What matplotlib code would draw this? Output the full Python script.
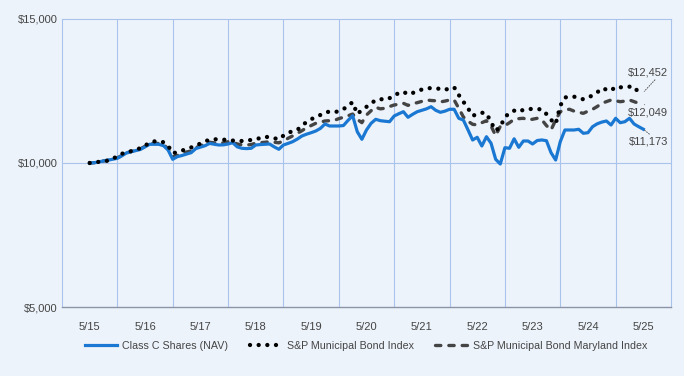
import numpy as np
import matplotlib
matplotlib.use("Agg")
import matplotlib.pyplot as plt
from matplotlib.lines import Line2D

# Growth of $10,000, monthly values (5/15 .. 5/25)
x_labels = ["5/15", "5/16", "5/17", "5/18", "5/19", "5/20", "5/21", "5/22", "5/23", "5/24", "5/25"]

class_c = [
    10000, 10010, 10040, 10070, 10100, 10130, 10163, 10250, 10350, 10390, 10430, 10470,
    10560, 10649, 10650, 10649, 10600, 10450, 10128, 10219, 10260, 10310, 10358, 10500,
    10550, 10600, 10680, 10650, 10625, 10630, 10660, 10705, 10560, 10510, 10500, 10510,
    10625, 10640, 10650, 10660, 10560, 10476, 10625, 10680, 10740, 10830, 10937, 11000,
    11052, 11110, 11200, 11354, 11285, 11285, 11285, 11300, 11480, 11642, 11087, 10823,
    11146, 11378, 11517, 11469, 11450, 11434, 11632, 11710, 11781, 11587, 11690, 11781,
    11830, 11880, 11955, 11830, 11760, 11800, 11865, 11865, 11552, 11490, 11150, 10799,
    10892, 10590, 10913, 10684, 10128, 9965, 10531, 10510, 10840, 10545, 10764, 10764,
    10660, 10780, 10800, 10774, 10358, 10104, 10740, 11146, 11146, 11146, 11170, 11031,
    11052, 11260, 11360, 11420, 11458, 11319, 11552, 11399, 11434, 11552, 11354, 11260,
    11173,
]

muni_index = [
    10000, 10020, 10040, 10060, 10080, 10150, 10230, 10320, 10380, 10410, 10450, 10520,
    10600, 10710, 10750, 10764, 10720, 10600, 10340, 10372, 10430, 10486, 10540, 10590,
    10680, 10750, 10810, 10823, 10823, 10810, 10799, 10780, 10764, 10764, 10780, 10800,
    10823, 10870, 10913, 10890, 10860, 10823, 10950, 11052, 11100, 11146, 11300, 11420,
    11517, 11600, 11667, 11760, 11781, 11760, 11800, 11865, 12000, 12108, 11700, 11840,
    11950, 12073, 12180, 12222, 12190, 12250, 12361, 12420, 12476, 12380, 12430, 12500,
    12550, 12594, 12600, 12594, 12570, 12535, 12600, 12628, 12361, 12128, 11900, 11642,
    11691, 11746, 11725, 11413, 11121, 11260, 11587, 11746, 11816, 11771, 11850, 11875,
    11875, 11870, 11865, 11700, 11500, 11354, 11990, 12274, 12300, 12302, 12250, 12212,
    12267, 12350, 12450, 12594, 12550, 12510, 12649, 12628, 12630, 12649, 12649, 12441,
    12452,
]

maryland_index = [
    10000, 10010, 10040, 10070, 10100, 10140, 10180, 10260, 10350, 10400, 10440, 10490,
    10580, 10670, 10680, 10680, 10630, 10500, 10200, 10260, 10320, 10380, 10420, 10530,
    10600, 10650, 10720, 10700, 10690, 10700, 10740, 10720, 10660, 10630, 10625, 10640,
    10690, 10705, 10720, 10740, 10720, 10700, 10764, 10858, 10940, 11031, 11120, 11226,
    11300, 11378, 11420, 11458, 11469, 11480, 11540, 11587, 11640, 11700, 11517, 11400,
    11667, 11816, 11934, 11880, 11900, 11960, 12014, 12040, 12073, 12000, 12060, 12094,
    12140, 12187, 12170, 12160, 12120, 12150, 12187, 12187, 11900, 11600, 11450, 11344,
    11320, 11400, 11469, 11285, 10950, 11274, 11300, 11400, 11517, 11540, 11552, 11493,
    11520, 11552, 11500, 11300, 11146, 11493, 11781, 11850, 11865, 11800, 11760, 11725,
    11800, 11865, 11960, 12073, 12130, 12187, 12160, 12128, 12150, 12187, 12130, 12073,
    12049,
]

series_names = ["Class C Shares (NAV)", "S&P Municipal Bond Index", "S&P Municipal Bond Maryland Index"]
end_labels = ["$11,173", "$12,452", "$12,049"]

assert len(class_c) == len(muni_index) == len(maryland_index) == 121

BG = "#EDF3FB"
GRID = "#A9C4EC"
BLUE = "#1A78D2"
TEXT = "#444444"

plt.rcParams['font.family'] = ['Liberation Sans', 'DejaVu Sans']

fig = plt.figure(figsize=(6.84, 3.76), dpi=100, facecolor=BG)
ax = fig.add_axes([0.0906, 0.1835, 0.8904, 0.766])
ax.set_facecolor(BG)

months = np.arange(len(class_c)) / 12.0

ax.plot(months, maryland_index, color="#444444", lw=2.4, linestyle=(0, (1.6, 2.4)),
        dash_capstyle='round', solid_joinstyle='round', zorder=3)
ax.plot(months, class_c, color=BLUE, lw=2.3, solid_joinstyle='round', zorder=4)
ax.plot(months, muni_index, color="black", lw=3.1, linestyle=(0, (0.01, 2.0)),
        dash_capstyle='round', zorder=5)

ax.set_xlim(-0.5, 10.5)
ax.set_ylim(5000, 15000)
ax.set_xticks(range(len(x_labels)))
ax.set_xticklabels(x_labels)
ax.set_yticks([5000, 10000, 15000])
ax.set_yticklabels(["$5,000", "$10,000", "$15,000"])
ax.tick_params(axis='both', length=0, labelsize=8, colors=TEXT)
ax.tick_params(axis='x', pad=11)
ax.tick_params(axis='y', pad=3)

# grid: vertical lines between the year labels, horizontal at the tick values
for gx in np.arange(0.5, 10.5, 1.0):
    ax.axvline(gx, color=GRID, lw=0.8, zorder=1)
ax.axhline(10000, color=GRID, lw=0.8, zorder=1)

for side in ["top", "left", "right"]:
    ax.spines[side].set_color(GRID)
    ax.spines[side].set_linewidth(0.8)
ax.spines["bottom"].set_color("#8A96A8")
ax.spines["bottom"].set_linewidth(1.0)

# end-of-period value labels with dotted leader lines
last_x = months[-1]
ann = [
    (class_c[-1], end_labels[0], (4, -5.5), (0.6, 1.0)),
    (muni_index[-1], end_labels[1], (3, 11), (0.75, 0.0)),
    (maryland_index[-1], end_labels[2], (3, -2.5), (0.55, 1.0)),
]
for yv, txt, off, rel in ann:
    ax.annotate(txt, xy=(last_x, yv), xytext=off, textcoords='offset points',
                ha='center', va='top' if off[1] < 0 else 'bottom',
                fontsize=8, color=TEXT, zorder=6,
                arrowprops=dict(arrowstyle='-', linestyle=':', color='#555555', lw=0.7,
                                relpos=rel, shrinkA=0, shrinkB=1))

handles = [
    Line2D([], [], color=BLUE, lw=2.3),
    Line2D([], [], color="black", lw=3.1, linestyle=(0, (0.01, 2.0)), dash_capstyle='round'),
    Line2D([], [], color="#444444", lw=2.4, linestyle=(0, (1.6, 2.4)), dash_capstyle='round'),
]
fig.legend(handles, series_names, loc='center', bbox_to_anchor=(0.535, 0.08), ncol=3,
           frameon=False, fontsize=7.7, labelcolor=TEXT, handlelength=3.0,
           handletextpad=0.5, columnspacing=2.0)

fig.savefig("out.png", dpi=100, facecolor=BG)
